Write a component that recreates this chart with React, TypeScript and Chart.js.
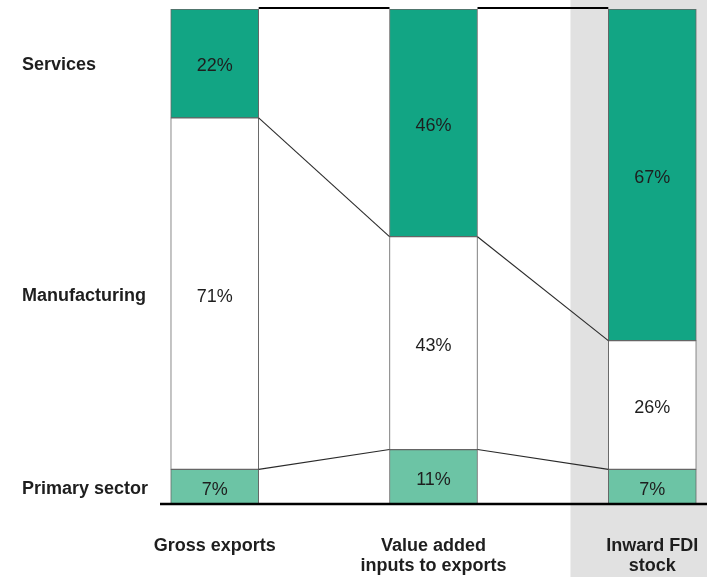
import React, { useEffect, useRef } from "react";
import { Chart, registerables } from "chart.js";

Chart.register(...registerables);

// ---- data ----
const categoryLines: string[][] = [["Gross exports"], ["Value added", "inputs to exports"], ["Inward FDI", "stock"]];
const categoryPositions = [0, 1, 2];
const sectorNames = ["Primary sector", "Manufacturing", "Services"];
const primaryValues = [7, 11, 7];
const manufacturingValues = [71, 43, 26];
const servicesValues = [22, 46, 67];

// ---- style ----
const FONT = '"Liberation Sans", Arial, Helvetica, sans-serif';
const SERVICES_COLOR = "#12a584";
const PRIMARY_COLOR = "#6cc4a5";
const MANUF_COLOR = "#ffffff";
const BORDER_COLOR = "#666666";
const BAND_COLOR = "#e1e1e1";
const BAND_START = 1.626; // x-scale value where the grey band starts
const TEXT_COLOR = "#1e1e1e";

const overlayPlugin = {
  id: "overlay",
  beforeDraw(chart: any) {
    const { ctx, scales } = chart;
    const x = scales.x;
    ctx.save();
    ctx.fillStyle = "#ffffff";
    ctx.fillRect(0, 0, chart.width, chart.height);
    const left = x.getPixelForValue(BAND_START);
    ctx.fillStyle = BAND_COLOR;
    ctx.fillRect(left, 0, chart.width - left, chart.height);
    ctx.restore();
  },
  afterDatasetsDraw(chart: any) {
    const { ctx, scales, chartArea } = chart;
    const x = scales.x;
    const y = scales.y;
    ctx.save();

    const bars = chart.getDatasetMeta(0).data;
    const n = categoryPositions.length;
    const levels: number[][] = [];
    for (let i = 0; i < n; i++) {
      levels.push([primaryValues[i], primaryValues[i] + manufacturingValues[i], primaryValues[i] + manufacturingValues[i] + servicesValues[i]]);
    }
    // connectors
    for (let l = 0; l < 3; l++) {
      for (let i = 0; i < n - 1; i++) {
        const a = bars[i];
        const b = bars[i + 1];
        const x1 = a.x + a.width / 2;
        const x2 = b.x - b.width / 2;
        const y1 = y.getPixelForValue(levels[i][l]);
        const y2 = y.getPixelForValue(levels[i + 1][l]);
        ctx.beginPath();
        if (l === 2) {
          ctx.lineWidth = 2.2;
          ctx.strokeStyle = "#000000";
          ctx.moveTo(x1, y1 - 1);
          ctx.lineTo(x2, y2 - 1);
        } else {
          ctx.lineWidth = 1.1;
          ctx.strokeStyle = "#2a2a2a";
          ctx.moveTo(x1, y1);
          ctx.lineTo(x2, y2);
        }
        ctx.stroke();
      }
    }

    // baseline
    ctx.beginPath();
    ctx.lineWidth = 2.5;
    ctx.strokeStyle = "#000000";
    ctx.moveTo(chartArea.left, chartArea.bottom);
    ctx.lineTo(chartArea.right, chartArea.bottom);
    ctx.stroke();

    // value labels
    ctx.textAlign = "center";
    ctx.textBaseline = "middle";
    ctx.font = `18px ${FONT}`;
    ctx.fillStyle = TEXT_COLOR;
    const allValues = [primaryValues, manufacturingValues, servicesValues];
    for (let d = 0; d < 3; d++) {
      const meta = chart.getDatasetMeta(d);
      meta.data.forEach((el: any, i: number) => {
        const cy = (el.y + el.base) / 2 + 3;
        ctx.fillText(`${allValues[d][i]}%`, el.x, cy);
      });
    }

    // row labels
    ctx.textAlign = "left";
    ctx.font = `bold 18px ${FONT}`;
    for (let d = 0; d < 3; d++) {
      const el = chart.getDatasetMeta(d).data[0];
      const cy = (el.y + el.base) / 2 + 2;
      ctx.fillText(sectorNames[d], 22, cy);
    }

    // category labels
    ctx.textAlign = "center";
    categoryLines.forEach((lines, i) => {
      const cx = x.getPixelForValue(categoryPositions[i]);
      lines.forEach((line, k) => {
        ctx.fillText(line, cx, chartArea.bottom + 42 + k * 20);
      });
    });

    ctx.restore();
  },
};

export default function App() {
  const canvasRef = useRef<HTMLCanvasElement | null>(null);

  useEffect(() => {
    document.body.style.margin = "0";
    const canvas = canvasRef.current;
    if (!canvas) return;
    const mk = (vals: number[]) => vals.map((v, i) => ({ x: categoryPositions[i], y: v }));
    const common = { borderColor: BORDER_COLOR, borderWidth: 1, borderSkipped: false as const };
    const chart = new Chart(canvas, {
      type: "bar",
      data: {
        datasets: [
          { label: sectorNames[0], data: mk(primaryValues), backgroundColor: PRIMARY_COLOR, ...common },
          { label: sectorNames[1], data: mk(manufacturingValues), backgroundColor: MANUF_COLOR, ...common },
          { label: sectorNames[2], data: mk(servicesValues), backgroundColor: SERVICES_COLOR, ...common },
        ],
      },
      options: {
        responsive: false,
        animation: false,
        events: [],
        layout: { padding: { left: 160, right: 0, top: 9, bottom: 73 } },
        plugins: { legend: { display: false }, tooltip: { enabled: false } },
        datasets: { bar: { barThickness: 88 } },
        scales: {
          x: { type: "linear", display: false, min: -0.25, max: 2.25, stacked: true, offset: false },
          y: { display: false, min: 0, max: 100, stacked: true },
        },
      } as any,
      plugins: [overlayPlugin],
    });
    return () => chart.destroy();
  }, []);

  return (
    <div style={{ width: 707, height: 577 }}>
      <canvas ref={canvasRef} width={707} height={577} style={{ display: "block" }} />
    </div>
  );
}
